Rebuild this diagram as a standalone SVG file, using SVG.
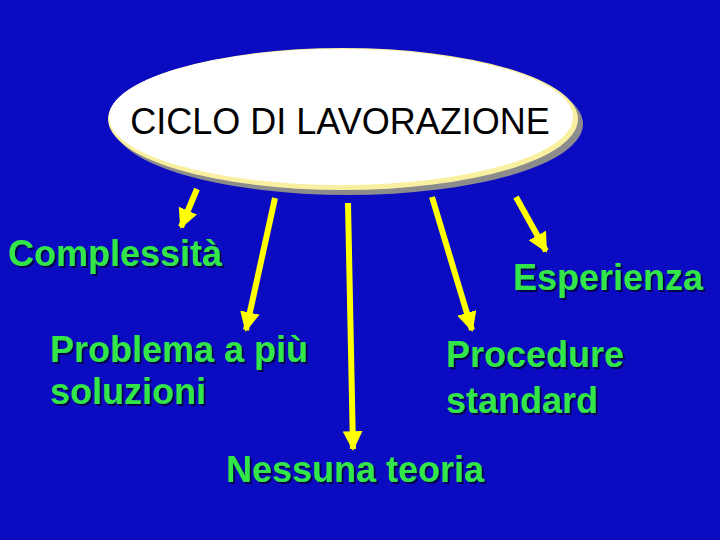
<svg xmlns="http://www.w3.org/2000/svg" width="720" height="540" viewBox="0 0 720 540">
<defs>
<style>
.lbl{font-family:"Liberation Sans",Arial,sans-serif;font-weight:bold;font-size:36px;fill:#33e64a;filter:url(#tsh);}
.arr{stroke:#ffff00;stroke-width:6;fill:none;}
</style>
<filter id="tsh" x="-5%" y="-20%" width="110%" height="140%">
<feDropShadow dx="2" dy="2" stdDeviation="0.3" flood-color="#000040" flood-opacity="0.9"/>
</filter>
<marker id="ah" viewBox="0 0 10 10" refX="9" refY="5" markerWidth="3.3" markerHeight="3.3" orient="auto" markerUnits="strokeWidth">
<path d="M0,0 L10,5 L0,10 z" fill="#ffff00"/>
</marker>
</defs>
<rect width="720" height="540" fill="#0b0bc2"/>
<g id="ciclo">
<ellipse cx="348" cy="124" rx="235" ry="71" fill="#8c8c8c"/>
<ellipse cx="343" cy="119" rx="235" ry="71" fill="#f8f0a0"/>
<ellipse cx="341" cy="117" rx="232" ry="68" fill="#ffffff"/>
<text x="340" y="134" text-anchor="middle" font-family="Liberation Sans, Arial, sans-serif" font-size="36" fill="#000">CICLO DI LAVORAZIONE</text>
</g>
<g id="connectors">
<line class="arr" x1="197" y1="189" x2="181" y2="227" marker-end="url(#ah)"/>
<line class="arr" x1="275" y1="198" x2="246" y2="330" marker-end="url(#ah)"/>
<line class="arr" x1="348" y1="203" x2="353" y2="449" marker-end="url(#ah)"/>
<line class="arr" x1="432" y1="197" x2="472" y2="330" marker-end="url(#ah)"/>
<line class="arr" x1="516" y1="197" x2="546" y2="251" marker-end="url(#ah)"/>
</g>
<g id="complessita">
<text class="lbl" x="8" y="266">Complessità</text>
</g>
<g id="esperienza">
<text class="lbl" x="513" y="290">Esperienza</text>
</g>
<g id="problema">
<text class="lbl" x="50" y="362">Problema a più</text>
<text class="lbl" x="50" y="404">soluzioni</text>
</g>
<g id="procedure">
<text class="lbl" x="446" y="367">Procedure</text>
<text class="lbl" x="446" y="413">standard</text>
</g>
<g id="nessuna">
<text class="lbl" x="226" y="482">Nessuna teoria</text>
</g>
</svg>
